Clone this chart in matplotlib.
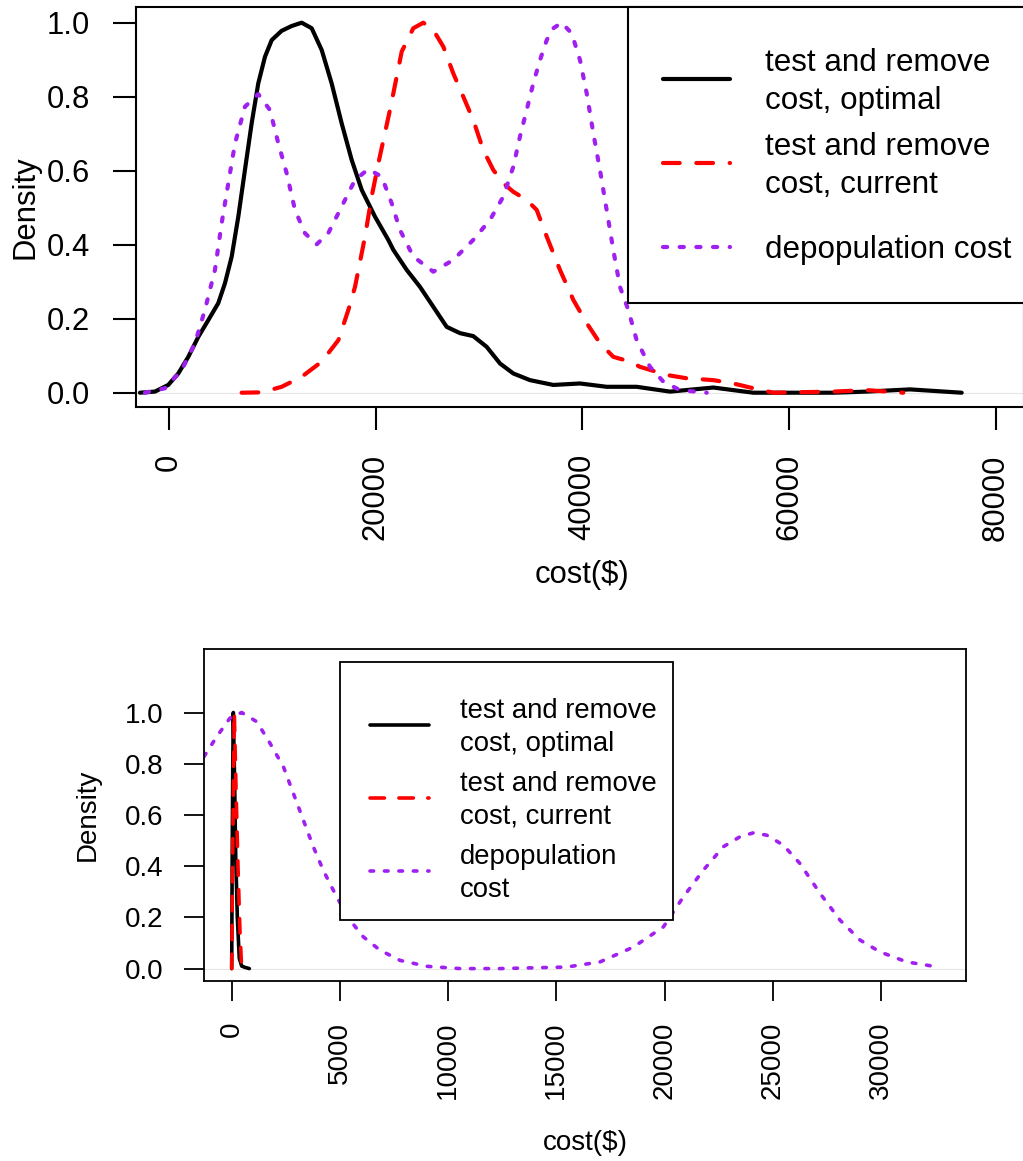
import numpy as np
import matplotlib.pyplot as plt
from matplotlib.lines import Line2D
from matplotlib.patches import Rectangle

plt.rcParams['font.family'] = ['Liberation Sans', 'DejaVu Sans']

W, H = 1023, 1161

# top panel: cost densities, scaled so each peak is 1
top_opt_x = [-2810, -1360, -70, 900, 1870, 2840, 3800, 4770, 5420, 6070, 6710, 7350,
             8000, 8640, 9290, 9940, 10900, 11870, 12840, 13810, 14780, 15740, 16710,
             17680, 18650, 19930, 21220, 21710, 23000, 24290, 25580, 26870, 28160, 29440,
             30740, 32030, 33320, 34930, 37190, 39770, 42350, 45250, 48480, 52670, 56540,
             64280, 67510, 71700, 76700]
top_opt_y = [0.0, 0.003, 0.021, 0.052, 0.097, 0.151, 0.196, 0.242, 0.296, 0.368, 0.476,
             0.602, 0.728, 0.836, 0.908, 0.953, 0.978, 0.991, 1.0, 0.985, 0.926, 0.836,
             0.728, 0.629, 0.548, 0.476, 0.413, 0.386, 0.332, 0.286, 0.232, 0.178, 0.161,
             0.153, 0.124, 0.079, 0.052, 0.034, 0.021, 0.025, 0.016, 0.016, 0.003, 0.014,
             0.0, 0.0, 0.003, 0.009, 0.0]

top_cur_x = [7030, 8970, 10900, 12840, 14780, 16390, 17360, 18000, 18970, 19610, 20330,
             21450, 22520, 23640, 24610, 25580, 26550, 27510, 28480, 29440, 30410, 31380,
             32350, 33320, 34610, 35580, 36550, 37830, 39120, 40420, 41700, 42990, 44610,
             45570, 48160, 50090, 52670, 54600, 56540, 58480, 64280, 67510, 71050]
top_cur_y = [0.0, 0.001, 0.016, 0.043, 0.084, 0.142, 0.224, 0.286, 0.422, 0.53, 0.629,
             0.773, 0.922, 0.985, 1.0, 0.98, 0.935, 0.863, 0.8, 0.737, 0.656, 0.602,
             0.566, 0.543, 0.521, 0.494, 0.422, 0.332, 0.251, 0.188, 0.134, 0.097, 0.084,
             0.07, 0.048, 0.039, 0.034, 0.025, 0.012, 0.0, 0.003, 0.007, 0.0]

top_dep_x = [-2320, -390, 1230, 2520, 3480, 4450, 5100, 5740, 6390, 7350, 8640, 9770,
             10580, 11390, 12190, 13160, 14290, 15410, 16710, 18000, 19280, 20580, 21550,
             22350, 23640, 25580, 27510, 29440, 31060, 32350, 33320, 33960, 34610, 35250,
             35900, 36550, 37190, 38000, 38970, 39770, 40420, 41060, 41700, 42350, 42990,
             43640, 44440, 45250, 46540, 47830, 49440, 52030]
top_dep_y = [0.0, 0.012, 0.061, 0.134, 0.224, 0.332, 0.458, 0.566, 0.674, 0.773, 0.807,
             0.764, 0.674, 0.593, 0.494, 0.431, 0.401, 0.431, 0.503, 0.575, 0.604, 0.584,
             0.512, 0.44, 0.368, 0.327, 0.359, 0.413, 0.467, 0.53, 0.611, 0.692, 0.764,
             0.836, 0.899, 0.953, 0.985, 1.0, 0.971, 0.899, 0.809, 0.701, 0.602, 0.494,
             0.386, 0.286, 0.224, 0.142, 0.07, 0.03, 0.007, 0.0]

# bottom panel
bot_opt_x = [0, 20, 50, 75, 140, 185, 260, 350, 460, 600, 815]
bot_opt_y = [0.0, 0.4, 0.8, 1.0, 0.7, 0.44, 0.2, 0.04, 0.01, 0.005, 0.0]

bot_cur_x = [0, 40, 90, 120, 200, 290, 380, 460]
bot_cur_y = [0.0, 0.4, 0.8, 1.0, 0.7, 0.4, 0.15, 0.0]

bot_dep_x = [-1280, -690, -80, 460, 1160, 1770, 2390, 2850, 3310, 3770, 4230, 4850, 5470,
             6080, 6850, 7780, 9010, 10550, 12400, 15480, 17020, 18560, 19950, 20870,
             21790, 22720, 23490, 24100, 24720, 25490, 26260, 27190, 28110, 29040, 29960,
             31190, 32650]
bot_dep_y = [0.828, 0.906, 0.978, 1.0, 0.964, 0.88, 0.788, 0.684, 0.58, 0.476, 0.384, 0.28,
             0.189, 0.124, 0.072, 0.032, 0.009, 0.0, 0.0, 0.006, 0.026, 0.084, 0.163, 0.28,
             0.384, 0.476, 0.515, 0.53, 0.521, 0.482, 0.41, 0.293, 0.189, 0.111, 0.065,
             0.026, 0.006]

top_labels = ['test and remove\ncost, optimal', 'test and remove\ncost, current',
              'depopulation cost']
bot_labels = ['test and remove\ncost, optimal', 'test and remove\ncost, current',
              'depopulation\ncost']
top_xticks = [0, 20000, 40000, 60000, 80000]
bot_xticks = [0, 5000, 10000, 15000, 20000, 25000, 30000]
yticks = [0.0, 0.2, 0.4, 0.6, 0.8, 1.0]

colors = ['black', '#FF0000', '#A020F0']
styles = ['-', (0, (4, 4)), (0, (1, 3))]

fig = plt.figure(figsize=(W / 100, H / 100), dpi=100)


def fx(px):
    return px / W


def fy(py):
    return 1 - py / H


def panel(box, series, xlim, ylim, xticks, fs, lw, tick_len, xpad, ypad, frame_lw,
          xlab_at, ylab_at):
    left, top, right, bottom = box
    ax = fig.add_axes([fx(left), fy(bottom), fx(right) - fx(left), (bottom - top) / H])
    ax.axhline(0, color='#e6e6e6', lw=0.8, zorder=1)
    for (x, y), c, ls in zip(series, colors, styles):
        ax.plot(x, y, color=c, ls=ls, lw=lw, dash_capstyle='round',
                solid_capstyle='round', solid_joinstyle='round', zorder=2)
    ax.set_xlim(xlim)
    ax.set_ylim(ylim)
    ax.set_xticks(xticks)
    ax.set_xticklabels([str(t) for t in xticks], rotation=90)
    ax.set_yticks(yticks)
    ax.set_yticklabels([f'{t:.1f}' for t in yticks])
    ax.tick_params(length=tick_len, width=frame_lw, labelsize=fs, color='black')
    ax.tick_params(axis='x', pad=xpad)
    ax.tick_params(axis='y', pad=ypad)
    for s in ax.spines.values():
        s.set_linewidth(frame_lw)
    ax.set_xlabel('cost($)', fontsize=fs)
    ax.xaxis.label.set_va('center')
    ax.xaxis.set_label_coords(fx(xlab_at[0]), fy(xlab_at[1]), transform=fig.transFigure)
    ax.set_ylabel('Density', fontsize=fs)
    ax.yaxis.label.set_va('center')
    ax.yaxis.set_label_coords(fx(ylab_at[0]), fy(ylab_at[1]), transform=fig.transFigure)
    return ax


def r_legend(box, labels, centers, step, x_line, x_text, fs, lw, frame_lw):
    # R-style legend: entries equally spaced, multi-line text centred on the key
    left, top, right, bottom = box
    fig.add_artist(Rectangle((fx(left), fy(bottom)), fx(right) - fx(left), (bottom - top) / H,
                             transform=fig.transFigure, facecolor='white',
                             edgecolor='black', lw=frame_lw, zorder=5))
    cap_half = 0.358 * fs * 100 / 72
    for lab, yc, c, ls in zip(labels, centers, colors, styles):
        fig.add_artist(Line2D([fx(x_line[0]), fx(x_line[1])], [fy(yc), fy(yc)],
                              transform=fig.transFigure, color=c, ls=ls, lw=lw,
                              dash_capstyle='round', solid_capstyle='round', zorder=6))
        lines = lab.split('\n')
        for j, txt in enumerate(lines):
            yb = yc + (j - (len(lines) - 1) / 2) * step + cap_half
            fig.text(fx(x_text), fy(yb), txt, fontsize=fs, ha='left', va='baseline', zorder=7)


panel((136, 7, 1024, 407),
      [(top_opt_x, top_opt_y), (top_cur_x, top_cur_y), (top_dep_x, top_dep_y)],
      (-3190, 82730), (-0.0386, 1.0424), top_xticks,
      fs=22.3, lw=3.0, tick_len=16.5, xpad=17.5, ypad=16.5, frame_lw=1.5,
      xlab_at=(582, 575), ylab_at=(25.5, 207))
r_legend((628, 7, 1030, 303), top_labels, [79, 163, 247], 38, (663, 730), 765,
         fs=22.6, lw=3.0, frame_lw=1.5)

panel((204, 649, 966, 981),
      [(bot_opt_x, bot_opt_y), (bot_cur_x, bot_cur_y), (bot_dep_x, bot_dep_y)],
      (-1280, 33930), (-0.0485, 1.248), bot_xticks,
      fs=20.0, lw=2.6, tick_len=14.5, xpad=15, ypad=14.4, frame_lw=1.3,
      xlab_at=(585, 1143), ylab_at=(87.5, 815))
r_legend((340, 662, 673, 920), bot_labels, [725, 798, 871], 33, (370, 429), 460,
         fs=19.8, lw=2.6, frame_lw=1.3)

fig.savefig('out.png', dpi=100)
